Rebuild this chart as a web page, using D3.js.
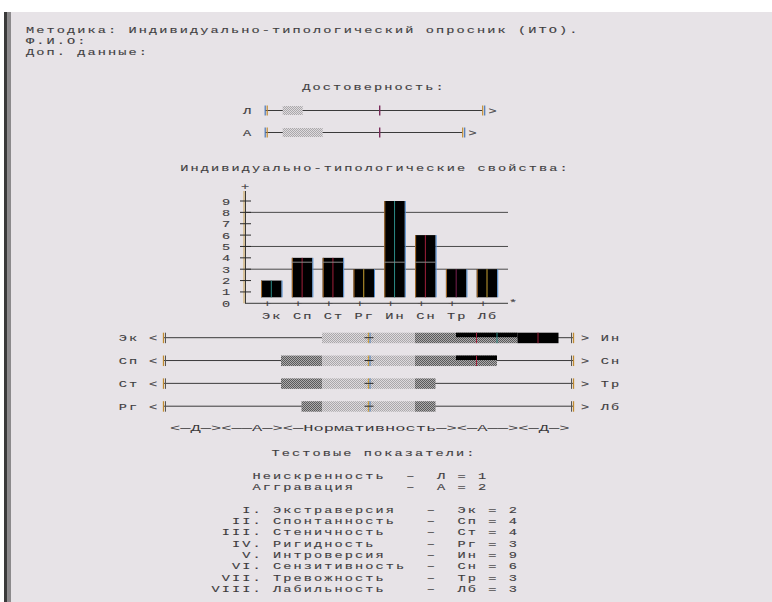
<!DOCTYPE html>
<html>
<head>
<meta charset="utf-8">
<script src="https://cdn.jsdelivr.net/npm/d3@7"></script>
<style>
  body { margin: 0; background: #fff; }
</style>
</head>
<body>
<svg id="chart" width="772" height="602"></svg>
<script>
// --- data ---
const headerLines = ['Методика: Индивидуально-типологический опросник (ИТО).', 'Ф.И.О:', 'Доп. данные:']
const relCodes = ['Л', 'А']
const relNames = ['Неискренность', 'Аггравация']
const relValues = [1, 2]
const relMax = [10, 9]
const codes = ['Эк', 'Сп', 'Ст', 'Рг', 'Ин', 'Сн', 'Тр', 'Лб']
const values = [2, 4, 4, 3, 9, 6, 3, 3]
const names = ['Экстраверсия', 'Спонтанность', 'Стеничность', 'Ригидность', 'Интроверсия', 'Сензитивность', 'Тревожность', 'Лабильность']
const numerals = ['I', 'II', 'III', 'IV', 'V', 'VI', 'VII', 'VIII']
const yTicks = [0, 1, 2, 3, 4, 5, 6, 7, 8, 9]
const gridLevels = [3, 5, 8]
const zones = [0, 2, 4, 7, 10]
const zoneLegend = '<─Д─><──А─><─Нормативность─><─А──><─Д─>'

// screen-print artefact colours
const tints = ['#2a8a86', '#a0203a', '#a0203a', '#c8a030', '#2a8a86', '#a0203a', '#7a2050', '#c8a030']

const FS = 10
const svg = d3.select('#chart')
  .attr('font-family', '"Liberation Mono", "DejaVu Sans Mono", monospace')
  .attr('font-size', FS)
  .attr('fill', '#3a383a')

const CW = 10.25
const SX = 1.36
const SY = 0.96
const LS = CW / SX - FS * 0.6

// monospace cells are 10.25px wide; stretch the glyphs a bit and pad the rest
const text = (x, y, s, anchor = 'start', solid = false) => {
  const sx = solid ? CW / (FS * 0.6) : SX
  const ls = solid ? 0 : LS
  const pad = ls / 2 * sx
  const left = anchor === 'middle' ? x - s.length * CW / 2 : x
  return svg.append('text')
    .attr('transform', 'translate(' + (left + pad) + ',' + y + ') scale(' + sx + ',' + SY + ')')
    .attr('letter-spacing', ls)
    .attr('stroke', '#5a585a')
    .attr('stroke-width', solid ? 0 : 0.15)
    .style('white-space', 'pre')
    .text(s)
}

const line = (x1, y1, x2, y2, color, w = 1) => svg.append('line')
  .attr('x1', x1).attr('y1', y1).attr('x2', x2).attr('y2', y2)
  .attr('stroke', color).attr('stroke-width', w)

// dither patterns
const defs = svg.append('defs')
const dither = (id, a, b) => {
  const p = defs.append('pattern').attr('id', id)
    .attr('width', 2).attr('height', 2).attr('patternUnits', 'userSpaceOnUse')
  p.append('rect').attr('width', 2).attr('height', 2).attr('fill', a)
  p.append('rect').attr('width', 1).attr('height', 1).attr('fill', b)
  p.append('rect').attr('x', 1).attr('y', 1).attr('width', 1).attr('height', 1).attr('fill', b)
}
dither('light', '#dedade', '#aaa8aa')
dither('medium', '#acaaac', '#5a5a5a')

// page
svg.append('rect').attr('x', 4).attr('y', 12).attr('width', 768).attr('height', 590).attr('fill', '#e7e3e7')
svg.append('rect').attr('x', 4).attr('y', 12).attr('width', 3.5).attr('height', 590).attr('fill', '#3a3a3a')
svg.append('rect').attr('x', 7.5).attr('y', 12).attr('width', 3.5).attr('height', 590).attr('fill', '#8c8a8c')

headerLines.forEach((s, i) => text(25, 33 + i * 11, s))

// --- Достоверность ---
text(373, 90, 'Достоверность:', 'middle')
const relX = d3.scaleLinear().domain([0, 10]).range([282.7, 482.7])
const relY = d3.scalePoint().domain(relCodes).range([110.5, 132.5])
relCodes.forEach((c, i) => {
  const y = relY(c)
  const x0 = relX(0) - 17.5
  const x1 = relX(relMax[i])
  line(x0, y, x1, y, '#3a3a3a')
  svg.append('rect').attr('x', relX(0)).attr('y', y - 4.5)
    .attr('width', relX(relValues[i]) - relX(0)).attr('height', 9).attr('fill', 'url(#light)')
  line(x0, y - 5, x0, y + 5, '#4a78b8', 1.2)
  line(x0 + 2, y - 5, x0 + 2, y + 5, '#c08a30', 1.2)
  line(relX(5) - 3, y - 5, relX(5) - 3, y + 5, '#7a2a5a', 1.4)
  line(x1, y - 5, x1, y + 5, '#c08a30', 1.2)
  line(x1 + 2, y - 5, x1 + 2, y + 5, '#4a78b8', 1.2)
  text(x1 + 10, y + 3.5, '>', 'middle')
  text(247, y + 3.5, c, 'middle')
})

// --- bar chart ---
text(374, 170.5, 'Индивидуально-типологические свойства:', 'middle')
const y = d3.scaleLinear().domain([0, 9]).range([303.3, 201])
const x = d3.scalePoint().domain(codes).range([271.3, 487])
const axisX = 245
const gridEnd = 508
const barW = 20.5

gridLevels.forEach(v => line(axisX, y(v), gridEnd, y(v), '#4a4a4a'))
line(axisX, y(0), gridEnd, y(0), '#3a3a3a')

const bars = svg.append('g')
codes.forEach((c, i) => {
  const cx = x(c)
  const top = y(values[i])
  const bottom = y(0) - 6
  bars.append('rect').attr('x', cx - barW / 2).attr('y', top)
    .attr('width', barW).attr('height', bottom - top).attr('fill', '#000')
  bars.append('line').attr('x1', cx - barW / 2 + 0.5).attr('x2', cx - barW / 2 + 0.5)
    .attr('y1', top).attr('y2', bottom).attr('stroke', '#b07028').attr('stroke-width', 1)
  bars.append('line').attr('x1', cx + barW / 2 + 0.5).attr('x2', cx + barW / 2 + 0.5)
    .attr('y1', top).attr('y2', bottom).attr('stroke', '#4a8ad0').attr('stroke-width', 1)
  bars.append('line').attr('x1', cx).attr('x2', cx)
    .attr('y1', top).attr('y2', bottom).attr('stroke', tints[i]).attr('stroke-width', 1)
  if (values[i] > 3.6) {
    bars.append('line').attr('x1', cx - barW / 2).attr('x2', cx + barW / 2)
      .attr('y1', y(3) - 7).attr('y2', y(3) - 7).attr('stroke', '#8a8a8a').attr('stroke-width', 1)
  }
  text(cx - 4, y(0) + 3.5, '+', 'middle')
  text(cx, 319, c, 'middle')
})

line(axisX - 1, 191, axisX - 1, y(0), '#c8a050', 1)
line(axisX + 0.5, 191, axisX + 0.5, y(0), '#3a3a3a', 1)
yTicks.forEach(v => {
  if (v > 0) line(axisX - 5, y(v), axisX + 6, y(v), '#2a2a2a')
  text(226, y(v) + 3.5, String(v), 'middle')
})
text(axisX, 190, '+', 'middle')
text(gridEnd + 5, y(0) + 3, '*', 'middle')

// --- bipolar scales ---
const mid = 368.5
const mag = d3.scaleLinear().domain([0, 10]).range([5.5, 210.5])
const rowY = d3.scalePoint().domain([0, 1, 2, 3]).range([337.7, 406.2])
const scaleStart = mid - 205
const scaleEnd = mid + 205
const artefact = ['#c8a030', '#a0203a', '#2a8a86', '#3060c0']

const fillSide = (v, side, yc) => {
  for (let z = 0; z < zones.length - 1; z++) {
    const a = zones[z]
    const b = Math.min(zones[z + 1], v)
    if (b <= a) break
    const pa = a === 0 ? mid : mid + side * mag(a)
    const pb = mid + side * mag(b)
    const xl = Math.min(pa, pb)
    const w = Math.abs(pb - pa)
    if (z === 0) {
      svg.append('rect').attr('x', xl).attr('y', yc - 5).attr('width', w).attr('height', 10.5).attr('fill', 'url(#light)')
    } else if (z === 1) {
      svg.append('rect').attr('x', xl).attr('y', yc - 5).attr('width', w).attr('height', 10.5).attr('fill', 'url(#medium)')
    } else if (z === 2) {
      svg.append('rect').attr('x', xl).attr('y', yc - 5).attr('width', w).attr('height', 10.5).attr('fill', 'url(#medium)')
      svg.append('rect').attr('x', xl).attr('y', yc - 5).attr('width', w).attr('height', 4.5).attr('fill', '#000')
    } else {
      svg.append('rect').attr('x', xl).attr('y', yc - 5).attr('width', w).attr('height', 10.5).attr('fill', '#000')
    }
    if (z >= 2) {
      for (let k = 1, px = xl + 2 * CW; px < xl + w - 1; k++, px += 2 * CW) {
        line(px, yc - 5, px, yc + 5.5, artefact[k % artefact.length], 1)
      }
    }
  }
}

for (let i = 0; i < 4; i++) {
  const yc = rowY(i)
  line(scaleStart, yc, scaleEnd, yc, '#3a3a3a')
  fillSide(values[i], -1, yc)
  fillSide(values[i + 4], 1, yc)
  line(scaleStart, yc - 5, scaleStart, yc + 5.5, '#c08a30', 1.3)
  line(scaleStart + 2, yc - 5, scaleStart + 2, yc + 5.5, '#555', 1)
  line(scaleEnd - 2, yc - 5, scaleEnd - 2, yc + 5.5, '#555', 1)
  line(scaleEnd, yc - 5, scaleEnd, yc + 5.5, '#c08a30', 1.3)
  line(mid, yc - 5, mid, yc + 5.5, '#d0a040', 1.3)
  line(mid + 1.5, yc - 5, mid + 1.5, yc + 5.5, '#4a80c0', 1)
  line(mid - 4, yc, mid + 5, yc, '#2a2a2a', 1)
  text(128, yc + 3.5, codes[i], 'middle')
  text(153, yc + 3.5, '<', 'middle')
  text(585, yc + 3.5, '>', 'middle')
  text(610, yc + 3.5, codes[i + 4], 'middle')
}

text(170, 431, zoneLegend, 'start', true)

// --- test scores ---
text(373, 455.5, 'Тестовые показатели:', 'middle')
const col0 = 210.5
relCodes.forEach((c, i) => {
  text(col0 + 4 * CW, 478.5 + i * 11.3, relNames[i].padEnd(15) + '–  ' + c + ' = ' + relValues[i])
})
codes.forEach((c, i) => {
  const row = (numerals[i] + '.').padStart(5) + ' ' + names[i].padEnd(15) + '–  ' + c + ' = ' + values[i]
  text(col0, 512.5 + i * 11.35, row)
})
</script>
</body>
</html>
